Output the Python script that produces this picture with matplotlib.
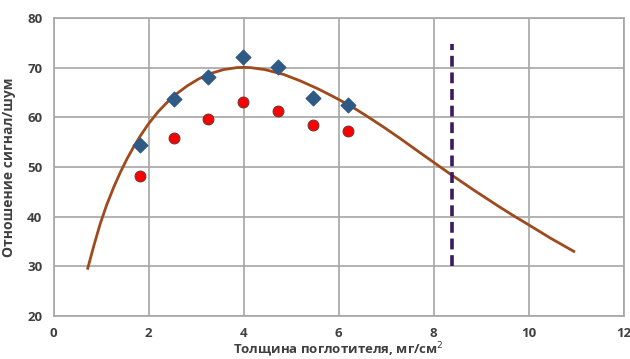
import matplotlib.pyplot as plt

# measured points
thickness = [1.83, 2.54, 3.26, 3.99, 4.73, 5.46, 6.20]
snr_diamond = [54.5, 63.7, 68.1, 72.2, 70.1, 63.9, 62.5]
snr_circle = [48.2, 55.8, 59.7, 63.0, 61.3, 58.4, 57.2]

# fitted curve
curve_x = [0.72, 0.85, 0.98, 1.12, 1.27, 1.41, 1.55, 1.69, 1.83, 2.0, 2.2, 2.39, 2.6,
           2.81, 3.05, 3.3, 3.58, 3.86, 4.0, 4.14, 4.45, 4.85, 5.2, 5.55, 5.9, 6.25, 6.6,
           6.95, 7.3, 7.65, 7.93, 8.39, 8.85, 9.33, 9.66, 9.99, 10.47, 10.95]
curve_y = [29.6, 34.2, 38.5, 42.4, 46.0, 49.0, 51.7, 54.1, 56.3, 58.7, 61.1, 63.0, 64.8,
           66.3, 67.7, 68.8, 69.6, 70.0, 70.05, 70.0, 69.6, 68.6, 67.3, 65.8, 64.1, 62.3,
           60.2, 58.0, 55.7, 53.3, 51.4, 48.3, 45.3, 42.3, 40.3, 38.4, 35.6, 33.0]

limit_x = 8.38
limit_y = [30, 74.8]

plt.rcParams["font.family"] = ["Open Sans", "DejaVu Sans"]

fig = plt.figure(figsize=(6.3, 3.59), dpi=100)
ax = fig.add_axes([0.085, 0.12, 0.905, 0.83])

grid_col = "#a6a6a6"
ax.grid(True, color=grid_col, linewidth=1.2, zorder=0)
for side in ax.spines.values():
    side.set_color(grid_col)
    side.set_linewidth(1.2)

ax.plot(curve_x, curve_y, color="#9e4a1c", linewidth=2.0, zorder=3,
        solid_joinstyle="round")
ax.plot([limit_x, limit_x], limit_y, color="#3b1a5e", linewidth=2.6,
        linestyle=(0, (3, 1.6)), zorder=3)
ax.scatter(thickness, snr_diamond, marker="D", s=55, color="#2f5a85", zorder=4)
ax.scatter(thickness, snr_circle, marker="o", s=60, color="#ff0000",
           edgecolor="#7a3030", linewidth=0.8, zorder=4)

ax.set_xlim(0, 12)
ax.set_ylim(20, 80)
ax.set_xticks(range(0, 13, 2))
ax.set_yticks(range(20, 81, 10))
ax.tick_params(length=0, pad=8, labelsize=9.5, labelcolor="#404040")
for lbl in ax.get_xticklabels() + ax.get_yticklabels():
    lbl.set_fontweight("bold")

ax.set_xlabel("Толщина поглотителя, мг/см$^2$", fontsize=9.5, fontweight="bold",
              color="#404040", labelpad=0)
ax.set_ylabel("Отношение сигнал/шум", fontsize=10, fontweight="bold",
              color="#404040", labelpad=8)

fig.savefig("out.png", dpi=100)
